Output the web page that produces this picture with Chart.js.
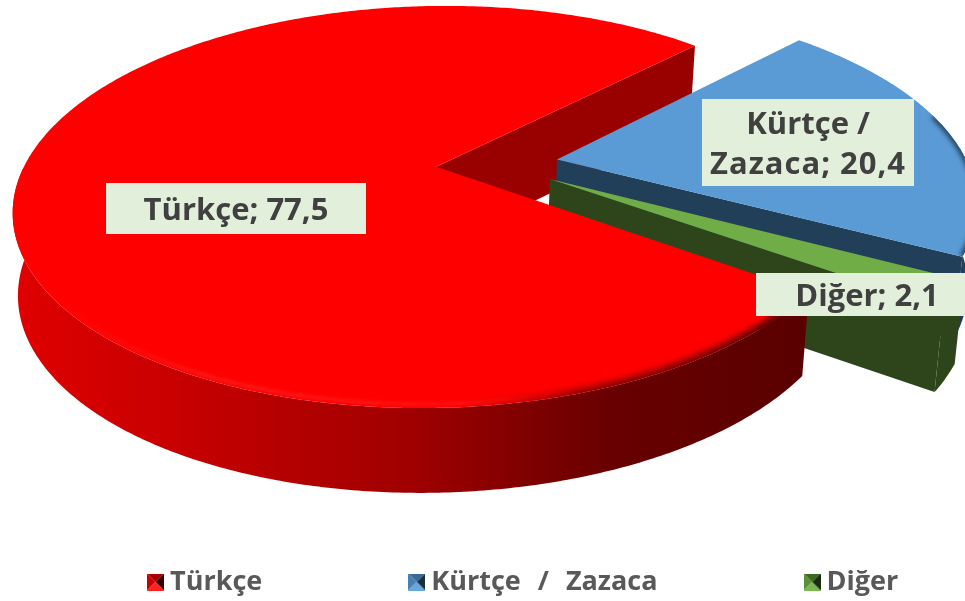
<!DOCTYPE html>
<html><head><meta charset="utf-8">
<style>html,body{margin:0;padding:0;background:#fff}#w{width:965px;height:601px;position:relative;overflow:hidden}</style>
<script src="https://cdn.jsdelivr.net/npm/chart.js@4"></script></head>
<body><div id="w"><canvas id="c" width="965" height="601"></canvas></div>
<script>
const categories = ["Türkçe", "Kürtçe / Zazaca", "Diğer"];
const values = [77.5, 20.4, 2.1];
const topColors = ["#FF0000", "#5B9BD5", "#70AD47"];
const cutColors = ["#990000", "#223F59", "#2E451C"];
const wallStops = [
  [[0,"#E00000"],[0.2,"#C80000"],[0.5,"#A00000"],[0.75,"#680000"],[1,"#5A0000"]],
  [[0,"#223F59"],[1,"#2A5478"]],
  [[0,"#2E451C"],[1,"#2E451C"]]
];
const swatchFaces = [
  ["#A80000","#C80000","#3A0000","#FF2020"],
  ["#3A6A95","#4A80B0","#16303F","#68A6DE"],
  ["#3C6A22","#5A9036","#1C2C10","#78B84E"]
];
const labelBoxes = [
  {x:106,y:183,w:260,h:51,lines:["Türkçe; 77,5"],ls:[0]},
  {x:702,y:99,w:212,h:87,lines:["Kürtçe /","Zazaca; 20,4"],ls:[0,1]},
  {x:756,y:273,w:222,h:43,lines:["Diğer; 2,1"],ls:[0]}
];
const P = {X0:497, Y0:164, k:0.2, s:0.467, D:82, p:0.15, m:0.985, dx:-2};
const RADIUS = 411, LEGEND_Y = 582, LEGEND_X = 154.5;

function proj(el, px, py, bottom){
  const R = el.outerRadius, u=(px-el.x)/R, v=(py-el.y)/R, w=1-P.k*v;
  return [P.X0 + R*u/w*(bottom?P.m:1) + (bottom?P.dx:0),
          P.Y0 + R*P.s*v/w + (bottom?P.D/Math.pow(w,P.p):0)];
}
function apex(el){
  const o=(el.options.offset||0)/2, mid=(el.startAngle+el.endAngle)/2;
  return [el.x+Math.cos(mid)*o, el.y+Math.sin(mid)*o];
}
function rim(el,a){
  const [ax,ay]=apex(el);
  return [ax+Math.cos(a)*el.outerRadius, ay+Math.sin(a)*el.outerRadius];
}
function rimPts(el,bottom,minSin){
  const pts=[], n=Math.ceil((el.endAngle-el.startAngle)/0.01);
  for(let i=0;i<=n;i++){
    const a=el.startAngle+(el.endAngle-el.startAngle)*i/n, q=rim(el,a);
    if(minSin===undefined || Math.sin(a)>=minSin) pts.push(proj(el,q[0],q[1],bottom));
  }
  return pts;
}
function poly(ctx,pts){
  ctx.beginPath();
  pts.forEach((p,i)=>i?ctx.lineTo(p[0],p[1]):ctx.moveTo(p[0],p[1]));
  ctx.closePath();
}
function topPath(el){
  const a=apex(el);
  return [proj(el,a[0],a[1],false)].concat(rimPts(el,false));
}
function cutWall(ctx,el,i){
  const a=apex(el), e=rim(el,el.endAngle);
  poly(ctx,[proj(el,a[0],a[1],false),proj(el,e[0],e[1],false),proj(el,e[0],e[1],true),proj(el,a[0],a[1],true)]);
  ctx.fillStyle=cutColors[i]; ctx.fill();
}
function outerWall(ctx,el,i){
  const t=rimPts(el,false,0), b=rimPts(el,true,0);
  if(!t.length) return;
  const xs=t.map(p=>p[0]);
  const g=ctx.createLinearGradient(Math.min(...xs),0,Math.max(...xs),0);
  wallStops[i].forEach(s=>g.addColorStop(s[0],s[1]));
  poly(ctx,t.concat(b.reverse()));
  ctx.fillStyle=g; ctx.fill();
}
function strokeRim(ctx,pts,style,width,blur){
  ctx.filter='blur('+blur+'px)';
  ctx.beginPath();
  pts.forEach((p,j)=>j?ctx.lineTo(p[0],p[1]):ctx.moveTo(p[0],p[1]));
  ctx.lineWidth=width; ctx.strokeStyle=style; ctx.stroke();
}
function topFace(ctx,el,i){
  const pts=topPath(el);
  poly(ctx,pts); ctx.fillStyle=topColors[i]; ctx.fill();
  ctx.save();
  poly(ctx,pts); ctx.clip();
  if(i===0){
    const g=ctx.createLinearGradient(13,0,800,0);
    g.addColorStop(0,'rgba(255,60,60,0)');
    g.addColorStop(0.55,'rgba(200,0,0,0)');
    g.addColorStop(0.72,'rgba(120,0,0,.8)');
    g.addColorStop(1,'rgba(80,0,0,1)');
    const near=rimPts(el,false,0);
    strokeRim(ctx,near,g,10,3);
    const h=ctx.createLinearGradient(60,0,560,0);
    h.addColorStop(0,'rgba(255,60,60,0)');
    h.addColorStop(0.3,'rgba(255,60,60,.45)');
    h.addColorStop(0.8,'rgba(255,60,60,.35)');
    h.addColorStop(1,'rgba(255,60,60,0)');
    ctx.translate(0,-4);
    strokeRim(ctx,near,h,3,1.5);
  } else if(i===1){
    strokeRim(ctx,rimPts(el,false,-0.25),cutColors[i],6,2.5);
  }
  ctx.restore();
}
const pie3d = {
  id:'pie3d',
  afterLayout(chart){
    const lg=chart.legend, o=lg.options.labels;
    chart.ctx.wordSpacing='10px';
    lg.maxWidth=2000; lg.fit();
    lg.top = LEGEND_Y - o.padding - o.font.size/2;
    lg.bottom = lg.top + lg.height;
    lg.left = LEGEND_X - o.padding; lg.right = 3000;
  },
  beforeDatasetsDraw(chart){
    const ctx=chart.ctx, els=chart.getDatasetMeta(0).data;
    ctx.save();
    cutWall(ctx,els[0],0);
    [1,2].forEach(i=>{ outerWall(ctx,els[i],i); cutWall(ctx,els[i],i); topFace(ctx,els[i],i); });
    outerWall(ctx,els[0],0); topFace(ctx,els[0],0);
    ctx.restore();
    return false;
  },
  afterDraw(chart){
    const ctx=chart.ctx;
    ctx.save();
    ctx.wordSpacing='0px';
    ctx.textAlign='center'; ctx.textBaseline='middle';
    ctx.font='bold 31px "Open Sans"';
    labelBoxes.forEach(b=>{
      ctx.fillStyle='#E2EFDA'; ctx.fillRect(b.x,b.y,b.w,b.h);
      ctx.fillStyle='#404040';
      const lh=40, y0=b.y+b.h/2-(b.lines.length-1)*lh/2+2.5;
      b.lines.forEach((t,j)=>{ ctx.letterSpacing=b.ls[j]+'px'; ctx.fillText(t,b.x+b.w/2,y0+j*lh); });
    });
    ctx.restore();
  }
};
function swatch(f){
  const c=document.createElement('canvas'); c.width=17; c.height=17;
  const x=c.getContext('2d'), m=8.5;
  [[[0,0],[17,0]],[[0,0],[0,17]],[[17,0],[17,17]],[[0,17],[17,17]]].forEach((e,i)=>{
    x.beginPath(); x.moveTo(e[0][0],e[0][1]); x.lineTo(e[1][0],e[1][1]); x.lineTo(m,m); x.closePath();
    x.fillStyle=f[i]; x.fill();
  });
  return c;
}
new Chart(document.getElementById('c'),{
  type:'pie',
  data:{labels:categories,datasets:[{data:values,backgroundColor:topColors,offset:122,borderWidth:0,clip:false}]},
  plugins:[pie3d],
  options:{
    responsive:false,animation:false,radius:RADIUS,rotation:125.2,
    layout:{padding:0},
    plugins:{
      tooltip:{enabled:false},
      legend:{position:'bottom',align:'start',labels:{
        usePointStyle:true,pointStyleWidth:2,padding:153.5,color:'#595959',
        font:{family:'"Open Sans"',size:27,weight:'bold'},
        generateLabels:()=>categories.map((t,i)=>({text:t,pointStyle:swatch(swatchFaces[i]),fontColor:'#595959',hidden:false,index:i,lineWidth:0}))
      }}
    }
  }
});
</script></body></html>
